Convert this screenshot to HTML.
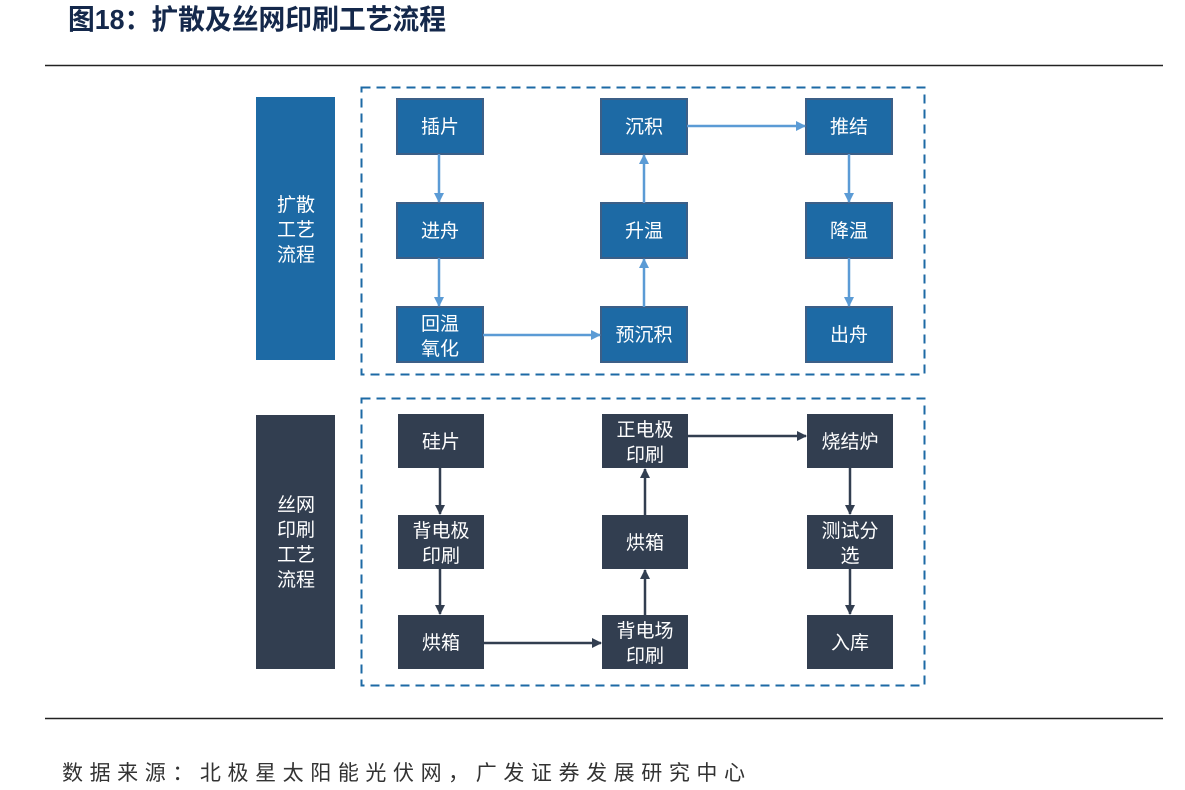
<!DOCTYPE html>
<html><head><meta charset="utf-8"><style>
body{margin:0;background:#fff;width:1185px;height:785px;overflow:hidden}
svg text{font-family:"Liberation Sans","Noto Sans CJK SC",sans-serif}
</style></head><body>
<svg width="1185" height="785" viewBox="0 0 1185 785" xmlns="http://www.w3.org/2000/svg">
<defs>
<marker id="ab" markerWidth="10" markerHeight="10" refX="9" refY="5" orient="auto" markerUnits="userSpaceOnUse"><path d="M0,0 L10,5 L0,10 z" fill="#5b9bd5"/></marker>
<marker id="ad" markerWidth="10" markerHeight="10" refX="9" refY="5" orient="auto" markerUnits="userSpaceOnUse"><path d="M0,0 L10,5 L0,10 z" fill="#323e50"/></marker>
</defs>
<text x="68" y="29" font-size="28" font-weight="bold" fill="#14284b" textLength="378" lengthAdjust="spacingAndGlyphs">图18：扩散及丝网印刷工艺流程</text>
<line x1="45" y1="65.5" x2="1163" y2="65.5" stroke="#222" stroke-width="1.5"/>
<line x1="45" y1="718.5" x2="1163" y2="718.5" stroke="#222" stroke-width="1.5"/>
<text x="62" y="780" font-size="21" fill="#333" textLength="683">数据来源：北极星太阳能光伏网，广发证券发展研究中心</text>

<rect x="256" y="97" width="79" height="263" fill="#1d6aa5"/>
<g fill="#fff" font-size="19" text-anchor="middle"><text x="296" y="211">扩散</text><text x="296" y="236">工艺</text><text x="296" y="261">流程</text></g>
<rect x="361.5" y="87.5" width="563" height="287" fill="none" stroke="#1d6aa5" stroke-width="2" stroke-dasharray="9,6"/>
<g fill="#1d6aa5" stroke="#3c5f87" stroke-width="2">
<rect x="397" y="99" width="86" height="55"/><rect x="397" y="203" width="86" height="55"/><rect x="397" y="307" width="86" height="55"/>
<rect x="601" y="99" width="86" height="55"/><rect x="601" y="203" width="86" height="55"/><rect x="601" y="307" width="86" height="55"/>
<rect x="806" y="99" width="86" height="55"/><rect x="806" y="203" width="86" height="55"/><rect x="806" y="307" width="86" height="55"/>
</g>
<g fill="#fff" font-size="19" text-anchor="middle">
<text x="440" y="133">插片</text><text x="440" y="237">进舟</text><text x="440" y="330">回温</text><text x="440" y="355">氧化</text>
<text x="644" y="133">沉积</text><text x="644" y="237">升温</text><text x="644" y="341">预沉积</text>
<text x="849" y="133">推结</text><text x="849" y="237">降温</text><text x="849" y="341">出舟</text>
</g>
<g stroke="#5b9bd5" stroke-width="2.5">
<line x1="439" y1="154" x2="439" y2="202" marker-end="url(#ab)"/>
<line x1="439" y1="258" x2="439" y2="306" marker-end="url(#ab)"/>
<line x1="483" y1="335" x2="600" y2="335" marker-end="url(#ab)"/>
<line x1="644" y1="307" x2="644" y2="259" marker-end="url(#ab)"/>
<line x1="644" y1="203" x2="644" y2="155" marker-end="url(#ab)"/>
<line x1="687" y1="126" x2="805" y2="126" marker-end="url(#ab)"/>
<line x1="849" y1="154" x2="849" y2="202" marker-end="url(#ab)"/>
<line x1="849" y1="258" x2="849" y2="306" marker-end="url(#ab)"/>
</g>

<rect x="256" y="415" width="79" height="254" fill="#323e50"/>
<g fill="#fff" font-size="19" text-anchor="middle"><text x="296" y="511">丝网</text><text x="296" y="536">印刷</text><text x="296" y="561">工艺</text><text x="296" y="586">流程</text></g>
<rect x="361.5" y="398.5" width="563" height="287" fill="none" stroke="#1d6aa5" stroke-width="2" stroke-dasharray="9,6"/>
<g fill="#323e50">
<rect x="398" y="414" width="86" height="54"/><rect x="398" y="515" width="86" height="54"/><rect x="398" y="615" width="86" height="54"/>
<rect x="602" y="414" width="86" height="54"/><rect x="602" y="515" width="86" height="54"/><rect x="602" y="615" width="86" height="54"/>
<rect x="807" y="414" width="86" height="54"/><rect x="807" y="515" width="86" height="54"/><rect x="807" y="615" width="86" height="54"/>
</g>
<g fill="#fff" font-size="19" text-anchor="middle">
<text x="441" y="448">硅片</text><text x="441" y="537">背电极</text><text x="441" y="562">印刷</text><text x="441" y="649">烘箱</text>
<text x="645" y="436">正电极</text><text x="645" y="461">印刷</text><text x="645" y="549">烘箱</text><text x="645" y="637">背电场</text><text x="645" y="662">印刷</text>
<text x="850" y="448">烧结炉</text><text x="850" y="537">测试分</text><text x="850" y="562">选</text><text x="850" y="649">入库</text>
</g>
<g stroke="#323e50" stroke-width="2.5">
<line x1="440" y1="468" x2="440" y2="514" marker-end="url(#ad)"/>
<line x1="440" y1="569" x2="440" y2="614" marker-end="url(#ad)"/>
<line x1="484" y1="643" x2="601" y2="643" marker-end="url(#ad)"/>
<line x1="645" y1="615" x2="645" y2="570" marker-end="url(#ad)"/>
<line x1="645" y1="515" x2="645" y2="469" marker-end="url(#ad)"/>
<line x1="688" y1="436" x2="806" y2="436" marker-end="url(#ad)"/>
<line x1="850" y1="468" x2="850" y2="514" marker-end="url(#ad)"/>
<line x1="850" y1="569" x2="850" y2="614" marker-end="url(#ad)"/>
</g>
</svg>
</body></html>
